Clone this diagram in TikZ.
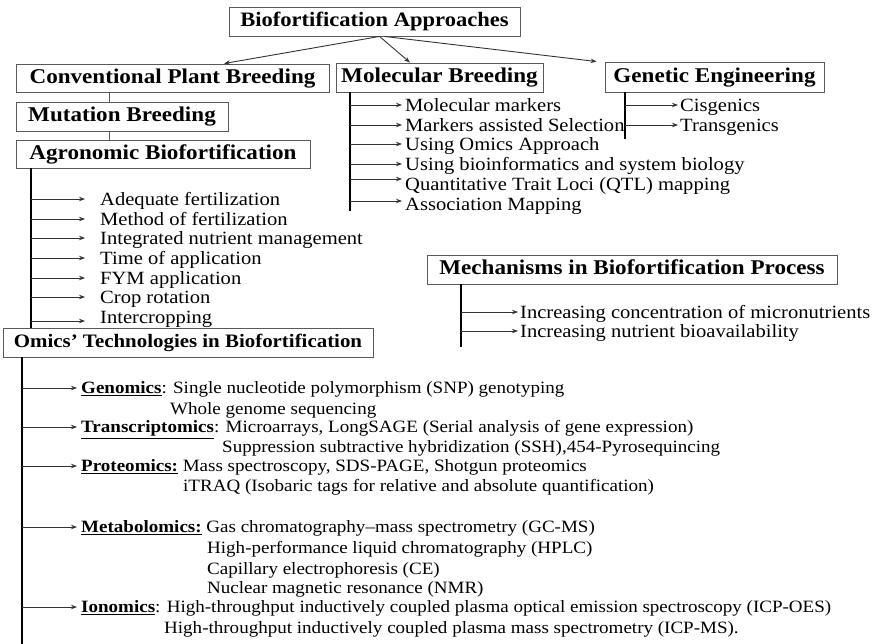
\documentclass[tikz,border=0pt]{standalone}
\usepackage{fontspec}
\setmainfont{Liberation Serif}[FakeStretch=1.1]
\usetikzlibrary{arrows.meta,calc}
\begin{document}
\begin{tikzpicture}[x=1pt,y=-1pt,
  hd/.style={draw=black!65, line width=0.9pt, font=\fontsize{21}{25}\selectfont\bfseries,
    inner sep=2pt, text height=14.5pt, text depth=4pt},
  item/.style={anchor=west, inner sep=0pt, font=\fontsize{18.7}{22}\selectfont,
    text height=12.3pt, text depth=0pt},
  oitem/.style={item, font=\fontsize{17.3}{20}\selectfont, text height=11.4pt},
  arr/.style={-{Stealth[length=6pt,width=4.5pt]}, draw=black!80, line width=0.9pt},
  trunk/.style={line width=2.4pt, draw=black},
  link/.style={line width=0.9pt, draw=black!65}]
\useasboundingbox (0,0) rectangle (884,644);
% boxes
\node[hd, font=\fontsize{20.5}{25}\selectfont\bfseries, minimum width=291pt, minimum height=29pt] (top) at (374.5,21.5) {Biofortification Approaches};
\node[hd, minimum width=313pt, minimum height=28pt] (conv) at (172.5,78) {Conventional Plant Breeding};
\node[hd, minimum width=207pt, minimum height=29pt] (mol) at (439.5,77.5) {Molecular Breeding};
\node[hd, minimum width=219pt, minimum height=30pt] (gen) at (714.5,77) {Genetic Engineering};
\node[hd, minimum width=212pt, minimum height=29pt] (mut) at (122,116.5) {Mutation Breeding};
\node[hd, minimum width=294pt, minimum height=28pt] (agr) at (163,154) {Agronomic Biofortification};
\node[hd, font=\fontsize{19}{23}\selectfont\bfseries, minimum width=370pt, minimum height=29pt] (omx) at (188,342.5) {Omics’ Technologies in Biofortification};
\node[hd, minimum width=410pt, minimum height=29pt] (mech) at (632,269.5) {Mechanisms in Biofortification Process};
% top arrows
\draw[arr] ([xshift=5pt]top.south) -- ([xshift=51.5pt]conv.north);
\draw[arr] ([xshift=5pt]top.south) -- ([xshift=-29.5pt]mol.north);
\draw[arr] ([xshift=10pt]top.south) -- ([xshift=-8pt]gen.north west);
% conventional chain
\coordinate (cx) at (109,0);
\draw[link] (conv.south -| cx) -- (mut.north -| cx);
\draw[link] (mut.south -| cx) -- (agr.north -| cx);
% molecular list
\node[item] (m1) at (405,105) {Molecular markers};
\node[item] (m2) at (405,125) {Markers assisted Selection};
\node[item] (m3) at (405,144) {Using Omics Approach};
\node[item] (m4) at (405,164) {Using bioinformatics and system biology};
\node[item] (m5) at (405,184) {Quantitative Trait Loci (QTL) mapping};
\node[item] (m6) at (405,204) {Association Mapping};
\coordinate (molB) at (350,211);
\draw[trunk] (mol.south -| molB) -- (molB);
\foreach \n in {m1,m2,m3,m4}{\draw[arr, shorten >=3pt] (molB |- \n.west) -- (\n.west);}
\draw[arr, shorten >=3pt, transform canvas={yshift=5pt}] (molB |- m5.west) -- (m5.west);
\draw[arr, shorten >=3pt, transform canvas={yshift=3pt}] (molB |- m6.west) -- (m6.west);
% genetic list
\node[item] (g1) at (680,105) {Cisgenics};
\node[item] (g2) at (680,125) {Transgenics};
\coordinate (genB) at (625,139);
\draw[trunk] (gen.south -| genB) -- (genB);
\foreach \n in {g1,g2}{\draw[arr, shorten >=2pt] (genB |- \n.west) -- (\n.west);}
% agronomic list
\node[item] (a1) at (100,199) {Adequate fertilization};
\node[item] (a2) at (100,219) {Method of fertilization};
\node[item] (a3) at (100,238) {Integrated nutrient management};
\node[item] (a4) at (100,258) {Time of application};
\node[item] (a5) at (100,278) {FYM application};
\node[item] (a6) at (100,297) {Crop rotation};
\node[item] (a7) at (100,317) {Intercropping};
\coordinate (agrB) at (31,0);
\draw[trunk] (agr.south -| agrB) -- (omx.north -| agrB);
\foreach \n in {a1,a2,a3,a4,a5,a6}{\draw[arr, shorten >=15pt] (agrB |- \n.west) -- (\n.west);}
\draw[arr, shorten >=15pt, transform canvas={yshift=-4pt}] (agrB |- a7.west) -- (a7.west);
% mechanisms list
\node[item] (k1) at (520,312) {Increasing concentration of micronutrients};
\node[item] (k2) at (520,331) {Increasing nutrient bioavailability};
\coordinate (mechB) at (461,347);
\draw[trunk] (mech.south -| mechB) -- (mechB);
\foreach \n in {k1,k2}{\draw[arr, shorten >=2pt] (mechB |- \n.west) -- (\n.west);}
% omics list
\node[oitem] (o1) at (81,388) {\underline{\textbf{Genomics}}: Single nucleotide polymorphism (SNP) genotyping};
\node[oitem] (o1b) at (170,409) {Whole genome sequencing};
\node[oitem] (o2) at (81,427) {\underline{\textbf{Transcriptomics}}: Microarrays, LongSAGE (Serial analysis of gene expression)};
\node[oitem] (o2b) at (222,447) {Suppression subtractive hybridization (SSH),454-Pyrosequincing};
\node[oitem] (o3) at (81,466) {\underline{\textbf{Proteomics:}} Mass spectroscopy, SDS-PAGE, Shotgun proteomics};
\node[oitem] (o3b) at (183,486) {iTRAQ (Isobaric tags for relative and absolute quantification)};
\node[oitem] (o4) at (81,527) {\underline{\textbf{Metabolomics:}} Gas chromatography–mass spectrometry (GC-MS)};
\node[oitem] (o4b) at (207,548) {High-performance liquid chromatography (HPLC)};
\node[oitem] (o4c) at (207,569) {Capillary electrophoresis (CE)};
\node[oitem] (o4d) at (207,588) {Nuclear magnetic resonance (NMR)};
\node[oitem] (o5) at (81,607) {\underline{\textbf{Ionomics}}: High-throughput inductively coupled plasma optical emission spectroscopy (ICP-OES)};
\node[oitem] (o5b) at (164,628) {High-throughput inductively coupled plasma mass spectrometry (ICP-MS).};
\coordinate (omB) at (22,644);
\draw[trunk] (omx.south -| omB) -- (omB);
\foreach \n in {o1,o2,o3,o4,o5}{\draw[arr, shorten >=4pt] (omB |- \n.west) -- (\n.west);}
\end{tikzpicture}
\end{document}
